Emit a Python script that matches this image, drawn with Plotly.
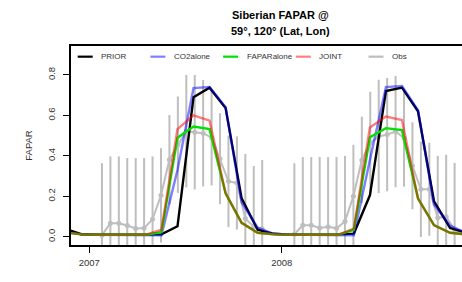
import plotly.graph_objects as go

# ---------------- data ----------------
# monthly model output (mid-month), Nov 2006 .. Dec 2008
model_years = [2006, 2006] + [2007] * 12 + [2008] * 12
model_months = [11, 12] + list(range(1, 13)) + list(range(1, 13))

prior = [0.040, 0.013,
         0.010, 0.010, 0.010, 0.010, 0.012, 0.052, 0.690, 0.737, 0.637, 0.190, 0.035, 0.015,
         0.010, 0.010, 0.010, 0.012, 0.016, 0.205, 0.720, 0.737, 0.620, 0.175, 0.044, 0.020]
co2alone = [0.025, 0.012,
            0.010, 0.010, 0.010, 0.008, 0.008, 0.330, 0.735, 0.740, 0.640, 0.170, 0.045, 0.015,
            0.010, 0.010, 0.010, 0.008, 0.008, 0.380, 0.740, 0.745, 0.625, 0.160, 0.055, 0.020]
faparalone = [0.022, 0.012,
              0.010, 0.010, 0.010, 0.010, 0.023, 0.490, 0.545, 0.532, 0.215, 0.069, 0.020, 0.012,
              0.010, 0.010, 0.010, 0.010, 0.035, 0.492, 0.537, 0.527, 0.190, 0.058, 0.020, 0.012]
joint = [0.022, 0.012,
         0.010, 0.010, 0.010, 0.010, 0.035, 0.532, 0.600, 0.574, 0.215, 0.069, 0.020, 0.012,
         0.010, 0.010, 0.010, 0.010, 0.040, 0.540, 0.594, 0.577, 0.188, 0.057, 0.020, 0.012]

# 16-day composite observations (start day-of-year of each composite)
obs_doy = [1, 17, 33, 49, 65, 81, 97, 113, 129, 145, 161, 177, 193, 209, 225, 241,
           257, 273, 289, 305, 321, 337, 353]
obs_2007 = [None, 0.008, 0.067, 0.067, 0.056, 0.041, 0.043, 0.087, 0.205, 0.381, 0.455,
            0.522, 0.517, 0.512, 0.490, 0.386, 0.274, 0.266, 0.090, 0.050, 0.040, None, None]
obs_sd_2007 = [None, 0.356, 0.330, 0.330, 0.333, 0.348, 0.346, 0.310, 0.233, 0.221, 0.238,
               0.278, 0.283, 0.263, 0.236, 0.225, 0.226, 0.230, 0.320, 0.300, 0.340, None, None]
obs_2008 = [None, 0.013, 0.057, 0.057, 0.044, 0.050, 0.042, 0.076, 0.200, 0.380, 0.463,
            0.496, 0.505, 0.520, 0.488, 0.351, 0.235, 0.235, 0.094, 0.099, 0.035, 0.018, None]
obs_sd_2008 = [None, 0.350, 0.337, 0.337, 0.350, 0.344, 0.352, 0.324, 0.255, 0.214, 0.254,
               0.280, 0.280, 0.275, 0.240, 0.215, 0.236, 0.230, 0.306, 0.306, 0.330, 0.340, None]

series_names = ["PRIOR", "CO2alone", "FAPARalone", "JOINT", "Obs"]
x_ticks = [2007, 2008]
y_ticks = [0.0, 0.2, 0.4, 0.6, 0.8]

# ---------------- styles ----------------
colors = {
    "PRIOR": "rgb(0,0,0)",
    "CO2alone": "rgba(0,0,255,0.5)",
    "FAPARalone": "rgb(0,225,0)",
    "JOINT": "rgba(255,0,0,0.5)",
    "Obs": "rgb(190,190,190)",
}
FONT = "Liberation Sans, Arial, Helvetica, sans-serif"

model_x = [y + (m - 0.5) / 12 for y, m in zip(model_years, model_months)]
obs_x = [2007 + (d - 1 + 8) / 365 for d in obs_doy] + [2008 + (d - 1 + 8) / 365 for d in obs_doy]
obs_y = obs_2007 + obs_2008
obs_sd = [s if s is not None else 0 for s in obs_sd_2007 + obs_sd_2008]

fig = go.Figure()
fig.add_trace(go.Scatter(
    x=obs_x, y=obs_y, mode="lines+markers", name="Obs",
    line=dict(color=colors["Obs"], width=2),
    marker=dict(color=colors["Obs"], size=5),
    error_y=dict(type="data", array=obs_sd, visible=True, thickness=2, width=0,
                 color=colors["Obs"]),
    connectgaps=False, showlegend=False))

for name, vals in [("PRIOR", prior), ("CO2alone", co2alone),
                   ("FAPARalone", faparalone), ("JOINT", joint)]:
    fig.add_trace(go.Scatter(x=model_x, y=vals, mode="lines", name=name,
                             line=dict(color=colors[name], width=2.4),
                             showlegend=False))

# plot area in pixels
L, R, T, B = 71, 462, 46, 245.5
W, H = 462, 282


def px(xp):
    return (xp - L) / (R - L)


def py(yp):
    return (B - yp) / (B - T)


# manual legend (R style)
leg_y = 56.7
for i, name in enumerate(series_names):
    x0 = 77.7 + 72.7 * i
    fig.add_shape(type="line", xref="paper", yref="paper",
                  x0=px(x0), x1=px(x0 + 15), y0=py(leg_y), y1=py(leg_y),
                  line=dict(color=colors[name], width=2.2))
    fig.add_annotation(xref="paper", yref="paper", x=px(x0 + 21.5), y=py(leg_y),
                       text=name, showarrow=False, xanchor="left", yanchor="middle",
                       font=dict(family=FONT, size=8, color="#333333"))

# title (two lines)
for txt, yy in [("<b>Siberian FAPAR @</b>", 15), ("<b>59°, 120° (Lat, Lon)</b>", 31)]:
    fig.add_annotation(xref="paper", yref="paper", x=px(280), y=py(yy), text=txt,
                       showarrow=False, xanchor="center", yanchor="middle",
                       font=dict(family=FONT, size=11, color="#000000"))

fig.update_layout(
    width=W, height=H,
    margin=dict(l=L, r=W - R, t=T, b=H - B, pad=0),
    plot_bgcolor="white", paper_bgcolor="white",
    font=dict(family=FONT, color="#222222"),
    showlegend=False,
    xaxis=dict(range=[2006.9049, 2008.937], tickvals=x_ticks,
               ticktext=[str(v) for v in x_ticks],
               ticks="outside", ticklen=6, tickwidth=1.2, tickcolor="black",
               showline=True, linewidth=1.6, linecolor="black", mirror=True,
               showgrid=False, zeroline=False, ticklabelstandoff=2,
               tickfont=dict(size=9.5, family=FONT, color="#333333")),
    yaxis=dict(range=[-0.0404, 0.9428], tickvals=y_ticks,
               ticktext=["%.1f" % v for v in y_ticks], tickangle=-90,
               ticks="outside", ticklen=6, tickwidth=1.2, tickcolor="black",
               showline=True, linewidth=1.6, linecolor="black", mirror=False,
               showgrid=False, zeroline=False, ticklabelstandoff=4,
               tickfont=dict(size=9.5, family=FONT, color="#333333"),
               title=dict(text="FAPAR", standoff=12,
                          font=dict(size=9.5, family=FONT, color="#333333"))),
)

fig.write_html("out.html")
